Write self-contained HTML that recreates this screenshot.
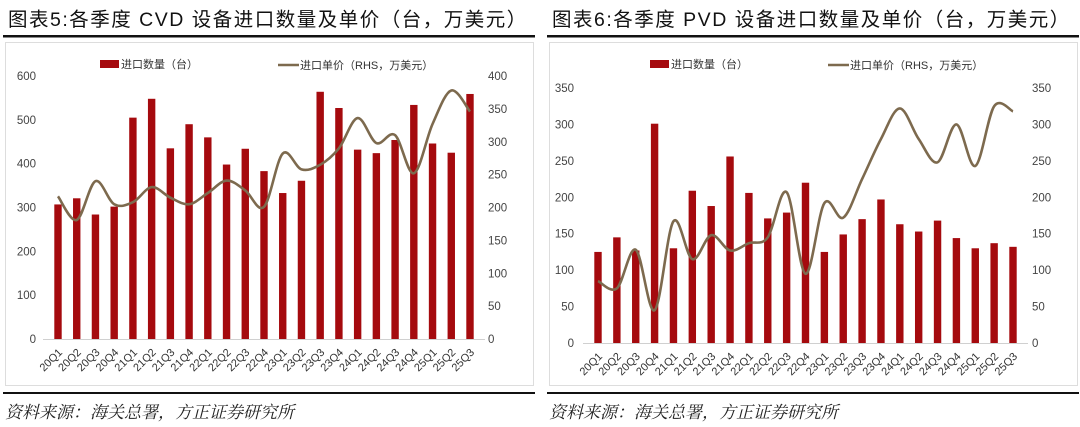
<!DOCTYPE html>
<html><head><meta charset="utf-8">
<style>
body{margin:0;width:1080px;height:427px;background:#fff;overflow:hidden;font-family:"Liberation Sans","Noto Sans CJK SC",sans-serif;}
svg{position:absolute;left:0;top:0}
</style></head>
<body>
<svg id="svg" width="1080" height="427" xmlns="http://www.w3.org/2000/svg"></svg>
<script>
const categories=["20Q1","20Q2","20Q3","20Q4","21Q1","21Q2","21Q3","21Q4","22Q1","22Q2","22Q3","22Q4","23Q1","23Q2","23Q3","23Q4","24Q1","24Q2","24Q3","24Q4","25Q1","25Q2","25Q3"];
const cvdQty=[307,321,284,302,505,548,435,490,460,398,434,383,333,361,564,527,432,424,454,534,446,425,559];
const cvdPrice=[217,181,240,205,208,231,215,205,222,241,226,201,282,258,265,290,336,298,310,252,327,378,346];
const cvdLeftTicks=[0,100,200,300,400,500,600];
const cvdRightTicks=[0,50,100,150,200,250,300,350,400];
const pvdQty=[125,145,127,301,130,209,188,256,206,171,179,220,125,149,170,197,163,153,168,144,130,137,132];
const pvdPrice=[85,75,128,45,167,115,148,127,137,145,207,95,192,172,225,280,322,280,248,300,243,325,318];
const pvdLeftTicks=[0,50,100,150,200,250,300,350];
const pvdRightTicks=[0,50,100,150,200,250,300,350];

const NS="http://www.w3.org/2000/svg";
const svg=document.getElementById('svg');
function mk(tag,attrs,parent,text){const e=document.createElementNS(NS,tag);for(const k in attrs)e.setAttribute(k,attrs[k]);if(text!==undefined)e.textContent=text;(parent||svg).appendChild(e);return e;}

function chart(o){
  const g=mk('g',{});
  
  
  const t=mk('text',{x:o.ox+8,y:26,'font-size':19.5,'letter-spacing':1.5,fill:'#111','font-family':'"Liberation Sans","Noto Sans CJK SC",sans-serif'},g,o.title);
  
  
  const l1=mk('rect',{x:o.ox+3,y:35,width:532,height:2.5,fill:'#111'},g);
  
  
  const box=mk('rect',{x:o.ox+5.5,y:42.5,width:528,height:343,fill:'none',stroke:'#ddd'},g);
  
  
  const l2=mk('rect',{x:o.ox+3,y:392,width:532,height:2,fill:'#111'},g);
  
  
  const s=mk('text',{x:o.ox+5,y:418,'font-size':17,'font-style':'italic',fill:'#222','font-family':'"Liberation Serif","Noto Serif CJK SC",serif'},g,'资料来源：海关总署，方正证券研究所');
  
  

  const n=categories.length;
  const xs=i=>o.x0+i*(o.x1-o.x0)/(n-1);
  const yL=v=>o.yb-(v/o.lmax)*(o.yb-o.yt);
  const yR=v=>o.yb-(v/o.rmax)*(o.yb-o.yt);
  const ax=mk('line',{x1:o.x0-15,x2:o.x1+15,y1:o.yb+0.5,y2:o.yb+0.5,stroke:'#d0d0d0'},g);
  
  
  o.lt.forEach(v=>{const e=mk('text',{x:o.lx,y:yL(v)+4,'font-size':11.5,fill:'#444','text-anchor':'end'},g,String(v));
    
    });
  o.rt.forEach(v=>{const e=mk('text',{x:o.rx,y:yR(v)+4,'font-size':11.5,fill:'#444'},g,String(v));
    
    });
  o.qty.forEach((v,i)=>{const b=mk('rect',{x:xs(i)-3.7,y:yL(v),width:7.4,height:o.yb-yL(v),fill:'#a50a0e'},g);
    
    });
  categories.forEach((c,i)=>{const x=xs(i),y=o.yb+10;const e=mk('text',{x:x+5,y:y+4,'font-size':11,fill:'#333','text-anchor':'end',transform:`rotate(-45 ${x+5} ${y+4})`},g,c);
    
    });
  const P=o.price.map((v,i)=>[xs(i),yR(v)]);
  let d=`M${P[0][0]},${P[0][1]}`;
  for(let i=0;i<P.length-1;i++){const p0=P[i-1]||P[i],p1=P[i],p2=P[i+1],p3=P[i+2]||P[i+1];
    d+=` C${p1[0]+(p2[0]-p0[0])/6},${p1[1]+(p2[1]-p0[1])/6} ${p2[0]-(p3[0]-p1[0])/6},${p2[1]-(p3[1]-p1[1])/6} ${p2[0]},${p2[1]}`;}
  const line=mk('path',{d,fill:'none',stroke:'#7d6a4e','stroke-width':2.6},g);
  
  
  const lg=mk('g',{},g);
  
  
  mk('rect',{x:o.lgx,y:60,width:19,height:8,fill:'#a50a0e'},lg);
  mk('text',{x:o.lgx+21,y:68,'font-size':11,fill:'#333'},lg,'进口数量（台）');
  mk('line',{x1:o.lgx+178,x2:o.lgx+199,y1:65,y2:65,stroke:'#7d6a4e','stroke-width':2.6},lg);
  mk('text',{x:o.lgx+200,y:69,'font-size':11,fill:'#333'},lg,'进口单价（RHS，万美元）');
}
chart({name:'cvd-chart',ox:0,title:'图表5:各季度 CVD 设备进口数量及单价（台，万美元）',x0:58,x1:470,yt:76,yb:339,lmax:600,rmax:400,lt:cvdLeftTicks,rt:cvdRightTicks,lx:36,rx:488,qty:cvdQty,price:cvdPrice,lgx:100});
chart({name:'pvd-chart',ox:544,title:'图表6:各季度 PVD 设备进口数量及单价（台，万美元）',x0:598,x1:1013,yt:88,yb:343,lmax:350,rmax:350,lt:pvdLeftTicks,rt:pvdRightTicks,lx:574,rx:1032,qty:pvdQty,price:pvdPrice,lgx:650});
</script>
</body></html>
